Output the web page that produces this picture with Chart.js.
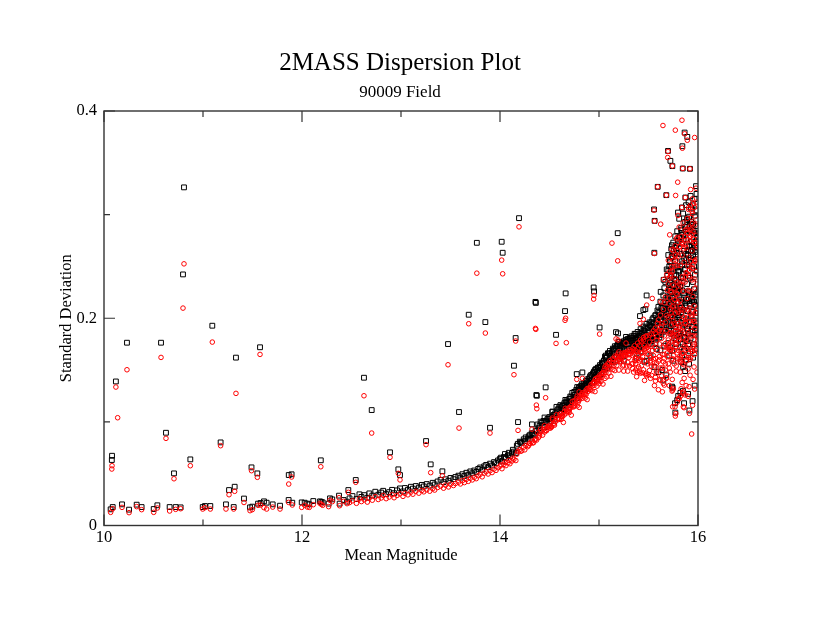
<!DOCTYPE html>
<html>
<head>
<meta charset="utf-8">
<script src="https://cdn.jsdelivr.net/npm/chart.js@4.4.1/dist/chart.umd.min.js"></script>
<style>
html,body{margin:0;padding:0;background:#fff;}
canvas{display:block;}
</style>
</head>
<body>
<canvas id="c" width="830" height="642"></canvas>
<script>
// ---- Tick values ----
const xLabelTicks = [10, 12, 14, 16];
const xMinorTicks = [11, 13, 15];
const yLabelTicks = [0, 0.2, 0.4];
const yMinorTicks = [0.1, 0.3];

// ---- Bright-end outliers (mean magnitude, black SD, red SD) ----
const magLeft = [10.808,10.798,11.094,10.232,10.576,11.576,11.333,10.120,10.138,10.626,
                 11.178,10.081,10.079,10.872,10.707,11.490,11.549,11.263,11.320,11.414,
                 11.866,11.895,12.190,12.626,12.704,12.543,12.889,12.973,12.990,12.468];
const blackLeft = [0.3263,0.2423,0.1928,0.1764,0.1764,0.1720,0.1620,0.1390,null,0.0895,
                   0.0802,0.0673,0.0632,0.0638,0.0503,0.0561,0.0503,0.0342,0.0374,0.0260,
                   0.0487,0.0494,0.0629,0.1426,0.1114,0.0439,0.0706,0.0542,0.0487,0.0342];
const redLeft = [0.2525,0.2098,0.1770,0.1503,0.1622,0.1651,0.1275,0.1336,0.1040,0.0841,
                 0.0770,0.0577,0.0545,0.0577,0.0451,0.0529,0.0465,0.0297,0.0330,0.0222,
                 0.0400,0.0468,0.0567,0.1252,0.0892,0.0417,0.0658,0.0503,0.0440,0.0320];

// ---- Bright-end floor (low dispersion) ----
const magFloor = [10.067,10.088,10.182,10.253,10.330,10.380,10.502,10.539,10.663,10.724,
                  10.774,10.997,11.020,11.074,11.232,11.310,11.475,11.498,11.556,11.582,
                  11.616,11.643,11.704,11.778,11.865,11.902,11.997,12.027,12.054,12.074,
                  12.114,12.182,12.195,12.209,12.269,12.283,12.306,12.374,12.380,12.421,
                  12.455];
const blackFloor = [0.0156,0.0178,0.0204,0.0153,0.0201,0.0178,0.0159,0.0195,0.0178,0.0178,
                    0.0175,0.0178,0.0188,0.0188,0.0204,0.0178,0.0175,0.0182,0.0211,0.0217,
                    0.0233,0.0220,0.0204,0.0191,0.0246,0.0220,0.0223,0.0220,0.0211,0.0204,
                    0.0236,0.0233,0.0227,0.0223,0.0211,0.0262,0.0252,0.0288,0.0211,0.0246,
                    0.0230];
const redFloor = [0.0127,0.0162,0.0175,0.0124,0.0182,0.0153,0.0127,0.0169,0.0140,0.0156,
                  0.0162,0.0159,0.0172,0.0159,0.0159,0.0159,0.0143,0.0153,0.0195,0.0198,
                  0.0172,0.0159,0.0178,0.0159,0.0223,0.0198,0.0175,0.0195,0.0178,0.0175,
                  0.0201,0.0214,0.0204,0.0195,0.0182,0.0243,0.0230,0.0268,0.0191,0.0233,
                  0.0211];

// ---- Main rising sequence ----
const magBand = [
 12.48,12.51,12.55,12.58,12.60,12.63,12.66,12.68,12.71,12.74,
 12.77,12.80,12.82,12.85,12.88,12.91,12.93,12.96,12.99,13.02,
 13.04,13.07,13.10,13.12,13.15,13.18,13.21,13.23,13.26,13.29,
 13.32,13.34,13.37,13.40,13.43,13.45,13.48,13.50,13.53,13.55,
 13.58,13.60,13.62,13.64,13.66,13.68,13.70,13.72,13.74,13.76,
 13.78,13.80,13.82,13.84,13.86,13.88,13.90,13.92,13.94,13.96,
 13.98,14.00,14.02,14.04,14.06,14.08,14.10,14.12,14.14,14.16,
 14.18,14.20,14.22,14.24,14.26,14.28,14.30,14.32,14.34,14.36,
 14.38,14.40,14.42,14.44,14.46,14.48,14.50,14.52,14.54,14.56,
 14.58,14.60,14.61,14.63,14.65,14.67,14.68,14.70,14.72,14.74,
 14.75,14.77,14.79,14.80,14.82,14.84,14.85,14.87,14.89,14.90,
 14.92,14.93,14.95,14.96,14.98,14.99,15.01,15.02,15.04,15.05,
 15.07,15.08,15.10,15.11,15.13,15.14,15.16,15.17,15.19,15.20,
 15.22,15.23,15.25,15.26,15.28,15.29,15.31,15.32,15.34,15.35,
 14.41,14.45,14.49,14.53,14.57,14.62,14.66,14.69,14.73,14.76,
 14.78,14.81,14.83,14.86,14.88,14.91,14.94,14.97,15.00,15.03,
 15.06,15.09,15.12,15.15,15.18,15.21,15.24,15.27,15.30,15.33,
 14.01,14.05,14.09,14.13,14.17,14.21,14.25,14.29,14.33,14.37,
 14.39,14.43,14.47,14.51,14.55,14.59,14.63,14.67,14.71,14.75,
 14.79,14.83,14.87,14.91,14.95,14.99,15.03,15.07,15.11,15.15,
 15.19,15.23,15.27,15.31,15.35,15.21,15.25,15.29,15.33,15.37,
 14.64,14.72,14.80,14.88,14.96,15.04,15.12,15.20,15.28,15.34,
 14.30,14.35,14.40,14.45,14.50,14.55,14.60,14.65,14.70,14.75,
 14.80,14.85,14.90,14.95,15.00,15.05,15.10,15.15,15.20,15.25,
 14.52,14.62,14.70,14.78,14.86,14.93,15.00,15.08,15.16,15.24,
 14.98,15.02,15.06,15.10,15.14,15.18,15.22,15.26,15.30,15.34];
const blackBand = [
 0.0262,0.0284,0.0255,0.0301,0.0276,0.0293,0.0268,0.0310,0.0289,0.0326,
 0.0297,0.0318,0.0335,0.0303,0.0322,0.0344,0.0312,0.0339,0.0358,0.0329,
 0.0362,0.0345,0.0374,0.0356,0.0381,0.0366,0.0392,0.0377,0.0400,0.0385,
 0.0412,0.0396,0.0425,0.0441,0.0418,0.0446,0.0432,0.0459,0.0447,0.0468,
 0.0481,0.0462,0.0495,0.0478,0.0509,0.0490,0.0522,0.0504,0.0531,0.0517,
 0.0546,0.0560,0.0538,0.0571,0.0585,0.0562,0.0597,0.0579,0.0612,0.0601,
 0.0628,0.0644,0.0619,0.0661,0.0652,0.0679,0.0668,0.0696,0.0713,0.0700,
 0.0788,0.0809,0.0798,0.0832,0.0850,0.0838,0.0872,0.0891,0.0879,0.0912,
 0.0975,0.0963,0.0991,0.1009,0.0997,0.1029,0.1047,0.1035,0.1066,0.1084,
 0.1113,0.1146,0.1162,0.1150,0.1181,0.1199,0.1188,0.1222,0.1240,0.1227,
 0.1289,0.1308,0.1296,0.1330,0.1351,0.1338,0.1372,0.1395,0.1383,0.1419,
 0.1452,0.1440,0.1478,0.1501,0.1489,0.1525,0.1548,0.1536,0.1571,0.1592,
 0.1640,0.1625,0.1662,0.1685,0.1671,0.1707,0.1730,0.1716,0.1750,0.1771,
 0.1732,0.1718,0.1751,0.1767,0.1754,0.1782,0.1795,0.1778,0.1808,0.1792,
 0.1002,0.1042,0.1028,0.1100,0.1145,0.1131,0.1212,0.1183,0.1280,0.1258,
 0.1336,0.1318,0.1370,0.1355,0.1410,0.1396,0.1468,0.1512,0.1494,0.1560,
 0.1630,0.1662,0.1638,0.1701,0.1732,0.1699,0.1765,0.1772,0.1750,0.1785,
 0.0655,0.0690,0.0702,0.0731,0.0770,0.0801,0.0815,0.0860,0.0885,0.0918,
 0.0940,0.0968,0.1012,0.1035,0.1070,0.1128,0.1155,0.1190,0.1245,0.1262,
 0.1310,0.1348,0.1392,0.1440,0.1485,0.1520,0.1572,0.1618,0.1652,0.1690,
 0.1735,0.1762,0.1790,0.1812,0.1830,0.1745,0.1778,0.1801,0.1826,0.1848,
 0.1120,0.1195,0.1272,0.1350,0.1432,0.1505,0.1580,0.1640,0.1690,0.1720,
 0.0835,0.0872,0.0915,0.0950,0.0992,0.1030,0.1078,0.1120,0.1168,0.1215,
 0.1262,0.1320,0.1372,0.1425,0.1478,0.1530,0.1582,0.1625,0.1665,0.1700,
 0.1010,0.1090,0.1160,0.1230,0.1305,0.1380,0.1450,0.1520,0.1580,0.1630,
 0.1410,0.1460,0.1505,0.1550,0.1590,0.1630,0.1665,0.1690,0.1710,0.1730];
const redBand = [
 0.0221,0.0238,0.0214,0.0257,0.0231,0.0248,0.0226,0.0265,0.0244,0.0278,
 0.0251,0.0266,0.0290,0.0259,0.0275,0.0296,0.0268,0.0290,0.0305,0.0281,
 0.0310,0.0296,0.0322,0.0302,0.0330,0.0312,0.0338,0.0325,0.0344,0.0331,
 0.0355,0.0342,0.0367,0.0380,0.0360,0.0389,0.0372,0.0398,0.0386,0.0405,
 0.0418,0.0401,0.0432,0.0414,0.0445,0.0426,0.0456,0.0440,0.0465,0.0452,
 0.0480,0.0494,0.0470,0.0505,0.0518,0.0497,0.0529,0.0511,0.0545,0.0532,
 0.0557,0.0572,0.0548,0.0590,0.0578,0.0605,0.0596,0.0622,0.0638,0.0627,
 0.0714,0.0733,0.0722,0.0756,0.0774,0.0761,0.0794,0.0813,0.0800,0.0835,
 0.0896,0.0884,0.0912,0.0929,0.0918,0.0950,0.0967,0.0955,0.0986,0.1004,
 0.1031,0.1063,0.1078,0.1067,0.1098,0.1115,0.1104,0.1138,0.1155,0.1144,
 0.1203,0.1222,0.1210,0.1243,0.1263,0.1250,0.1284,0.1306,0.1294,0.1329,
 0.1360,0.1348,0.1386,0.1408,0.1396,0.1431,0.1454,0.1441,0.1476,0.1497,
 0.1544,0.1529,0.1566,0.1589,0.1575,0.1611,0.1634,0.1620,0.1654,0.1675,
 0.1635,0.1621,0.1653,0.1668,0.1656,0.1683,0.1695,0.1679,0.1707,0.1692,
 0.0931,0.0964,0.0952,0.1021,0.1069,0.1050,0.1131,0.1104,0.1198,0.1177,
 0.1248,0.1232,0.1280,0.1267,0.1321,0.1308,0.1376,0.1419,0.1402,0.1468,
 0.1530,0.1561,0.1540,0.1600,0.1631,0.1602,0.1663,0.1670,0.1648,0.1680,
 0.0585,0.0610,0.0628,0.0650,0.0688,0.0716,0.0730,0.0772,0.0796,0.0825,
 0.0850,0.0872,0.0915,0.0940,0.0968,0.1022,0.1050,0.1085,0.1132,0.1150,
 0.1190,0.1228,0.1265,0.1310,0.1352,0.1388,0.1431,0.1475,0.1512,0.1545,
 0.1590,0.1610,0.1638,0.1650,0.1672,0.1580,0.1548,0.1575,0.1560,0.1590,
 0.0995,0.1065,0.1140,0.1215,0.1292,0.1365,0.1440,0.1500,0.1540,0.1560,
 0.0790,0.0825,0.0866,0.0902,0.0941,0.0980,0.1026,0.1068,0.1115,0.1160,
 0.1210,0.1265,0.1318,0.1370,0.1422,0.1472,0.1522,0.1568,0.1605,0.1640,
 0.0950,0.1025,0.1090,0.1155,0.1230,0.1300,0.1368,0.1435,0.1495,0.1540,
 0.1345,0.1390,0.1420,0.1470,0.1505,0.1545,0.1580,0.1600,0.1620,0.1640];

// ---- Scattered variables above the sequence ----
const magSpread = [13.586,13.899,14.182,13.253,13.300,13.418,14.192,13.766,14.017,14.027,
                   15.131,15.189,14.946,14.950,14.663,14.657,14.358,14.362,13.684,13.852,
                   13.475,14.158,14.566,14.670,15.006,14.141,14.461,14.367,14.372,14.529,
                   14.775,14.832,14.800,14.323,15.192,15.172,15.290,15.273,15.414,15.448];
const blackSpread = [0.1095,0.0943,0.0998,0.0815,0.0590,0.0523,0.2966,0.2728,0.2738,0.2632,
                     null,0.2821,0.2297,0.2259,0.2240,0.2069,0.2158,0.2148,0.2034,0.1963,
                     0.1751,0.1809,0.1840,null,0.1911,0.1542,0.1333,0.1259,0.1252,0.1095,
                     0.1461,0.1477,0.1333,0.0976,0.1854,0.1866,null,0.1820,0.2021,0.2079];
const redSpread = [0.0940,0.0892,0.0918,0.0780,0.0510,0.0480,0.2882,0.2435,0.2561,0.2429,
                   0.2725,0.2554,0.2185,0.2220,0.2000,0.1980,0.1902,0.1893,0.1947,0.1857,
                   0.1551,0.1780,0.1757,0.1764,0.1847,0.1455,0.1233,0.1162,0.1127,0.1037,
                   0.1410,0.1420,0.1290,0.0930,0.1790,0.1800,0.1490,0.1760,0.1950,0.1990];

// ---- Faint-end high outliers ----
const magHigh = [15.838,15.646,15.771,15.865,15.892,15.966,15.842,15.697,15.694,
                 15.721,15.741,15.846,15.919,15.795,15.980,15.926,15.593,15.680,
                 15.774,15.872,15.943,15.838,15.879,15.906,15.956,15.940,15.556,
                 15.798,15.562,15.623,15.892,15.943,15.714,15.781,15.737,15.559,
                 15.684,15.727,15.653,15.623,15.481,15.538,15.626,15.482,15.468];
const blackHigh = [null,null,null,0.3792,0.3750,null,0.3660,0.3615,null,
                   0.3519,0.3468,0.3445,0.3442,null,0.3275,null,0.3268,0.3188,
                   null,0.3165,null,0.3069,0.3091,null,null,null,0.3050,
                   0.3020,0.2940,null,0.2963,null,null,null,0.2705,0.2632,
                   0.2471,0.2471,0.2371,0.2255,0.2220,null,null,null,0.2088];
const redHigh = [0.3911,0.3860,0.3815,0.3780,0.3718,0.3744,0.3641,0.3610,0.3551,
                 null,0.3470,0.3445,0.3442,0.3313,0.3255,0.3242,0.3268,0.3188,
                 0.3185,0.3165,0.3152,0.3069,null,0.3069,0.3108,0.3030,0.3043,
                 0.2992,0.2937,0.2908,0.2963,0.2915,0.2805,0.2766,0.2664,0.2625,
                 0.2423,0.2420,0.2375,null,null,0.2191,0.2159,0.2127,null];

// ---- Faint-end cloud ----
const magCloud = [
 15.36,15.37,15.37,15.38,15.39,15.39,15.40,15.41,15.41,15.42,
 15.43,15.43,15.44,15.45,15.45,15.46,15.47,15.47,15.48,15.49,
 15.49,15.50,15.51,15.51,15.52,15.53,15.53,15.54,15.55,15.55,
 15.36,15.40,15.44,15.48,15.52,15.38,15.42,15.46,15.50,15.54,
 15.36,15.37,15.39,15.40,15.42,15.43,15.45,15.46,15.48,15.49,
 15.51,15.52,15.54,15.55,15.57,15.58,15.60,15.61,15.63,15.64,
 15.31,15.34,15.37,15.41,15.44,15.47,15.50,15.53,15.57,15.61,
 15.56,15.56,15.57,15.57,15.58,15.58,15.59,15.59,15.60,15.60,
 15.61,15.61,15.62,15.62,15.63,15.63,15.64,15.64,15.65,15.65,
 15.66,15.66,15.66,15.67,15.67,15.67,15.68,15.68,15.68,15.69,
 15.57,15.59,15.61,15.63,15.65,15.67,15.69,15.58,15.62,15.66,
 15.70,15.70,15.70,15.71,15.71,15.71,15.72,15.72,15.72,15.73,
 15.73,15.73,15.74,15.74,15.74,15.75,15.75,15.75,15.76,15.76,
 15.76,15.77,15.77,15.77,15.78,15.78,15.78,15.79,15.79,15.79,
 15.80,15.80,15.80,15.70,15.72,15.74,15.76,15.78,15.71,15.75,
 15.73,15.77,15.79,15.74,15.78,15.72,15.76,15.80,15.71,15.79,
 15.70,15.73,15.75,15.77,15.79,15.71,15.74,15.76,15.78,15.80,
 15.66,15.68,15.70,15.72,15.74,15.76,15.78,15.80,15.82,15.84,
 15.86,15.88,15.90,15.92,15.94,15.96,15.98,15.67,15.69,15.71,
 15.73,15.75,15.77,15.79,15.81,15.83,15.85,15.87,15.89,15.91,
 15.93,15.95,15.97,15.99,15.815,15.835,15.855,15.875,15.895,15.915,
 15.935,15.955,15.975,15.995,15.705,15.725,15.745,15.765,15.785,15.805,
 15.825,15.845,15.865,15.885,15.905,15.925,15.945,15.965,15.985,15.995,
 15.715,15.735,15.755,15.775,15.795,15.815,15.835,15.855,15.875,15.895,
 15.915,15.935,15.955,15.975,15.995,15.905,15.925,15.945,15.965,15.985,
 15.81,15.81,15.81,15.82,15.82,15.82,15.83,15.83,15.83,15.84,
 15.84,15.84,15.85,15.85,15.85,15.86,15.86,15.86,15.87,15.87,
 15.87,15.88,15.88,15.88,15.89,15.89,15.89,15.90,15.90,15.90,
 15.91,15.91,15.91,15.92,15.92,15.92,15.93,15.93,15.93,15.94,
 15.94,15.94,15.95,15.95,15.95,15.96,15.96,15.96,15.97,15.97,
 15.97,15.98,15.98,15.98,15.99,15.99,15.99,15.82,15.86,15.90,
 15.84,15.88,15.92,15.96,15.83,15.87,15.91,15.95,15.99,15.85,
 15.81,15.85,15.89,15.93,15.97,15.83,15.87,15.91,15.95,15.99,
 15.82,15.84,15.86,15.88,15.90,15.92,15.94,15.96,15.98,15.80,
 15.83,15.85,15.87,15.89,15.91,15.93,15.95,15.97,15.81,15.99,
 15.38,15.48,15.25,15.42,15.52,15.35,15.46,15.56,15.60,15.64,
 15.744,15.771,15.775,15.859,15.913,15.936,15.848,15.810,15.822,15.900,
 15.966,15.738,15.650,15.680,15.768,15.852,15.744,15.800,15.790,15.945];
const blackCloud = [
 0.1762,0.1705,0.1790,0.1741,0.1812,0.1688,0.1775,0.1830,0.1720,0.1795,
 0.1748,0.1860,0.1802,0.1735,0.1885,0.1770,0.1825,0.1910,0.1760,0.1842,
 0.1790,0.1870,0.1935,0.1752,0.1815,0.1962,0.1780,0.1890,0.1840,0.2005,
 0.1720,0.1746,0.1778,0.1802,0.1826,0.1798,0.1815,0.1852,0.1795,0.1920,
 0.1850,0.1812,0.1868,0.1835,0.1895,0.1862,0.1920,0.1880,0.1945,0.1905,
 0.1960,0.1925,0.1990,0.1950,0.2025,0.1980,0.2060,0.2010,0.2100,0.2050,
 0.1690,0.1705,0.1720,0.1735,0.1750,0.1770,0.1785,0.1800,0.1820,0.1840,
 0.1905,0.1840,0.2030,0.1875,0.1960,0.1795,0.2075,0.1910,0.1850,0.2110,
 0.1925,0.2050,0.1880,0.2160,0.1990,0.1842,0.2095,0.1935,0.2220,0.1870,
 0.2015,0.2290,0.1950,0.2120,0.1885,0.2350,0.2060,0.1930,0.2195,0.2410,
 0.1760,0.1990,0.1815,0.2040,0.2150,0.2005,0.2090,0.1705,0.1690,0.1735,
 0.2180,0.1960,0.2460,0.2070,0.2320,0.1880,0.2250,0.2010,0.2540,0.2130,
 0.2400,0.1850,0.2260,0.2030,0.2590,0.2140,0.1940,0.2480,0.2310,0.2060,
 0.2620,0.2200,0.1990,0.2550,0.2370,0.2110,0.2680,0.2250,0.1960,0.2490,
 0.2160,0.2720,0.2030,0.1760,0.1720,0.1690,0.1810,0.1750,0.1640,0.1590,
 0.1880,0.1920,0.1830,0.1940,0.1790,0.2340,0.2410,0.2290,0.2500,0.2630,
 0.2610,0.2670,0.2730,0.2790,0.2840,0.2280,0.2200,0.2120,0.2050,0.1870,
 0.2080,0.2150,0.2210,0.2280,0.2320,0.2380,0.2420,0.2460,0.2500,0.2550,
 0.2580,0.2620,0.2650,0.2690,0.2700,0.2720,0.2740,0.1980,0.2020,0.2100,
 0.2150,0.2200,0.2260,0.2300,0.2350,0.2390,0.2430,0.2470,0.2510,0.2540,
 0.2580,0.2610,0.2640,0.2660,0.2100,0.2150,0.2080,0.2120,0.2180,0.2140,
 0.2200,0.2160,0.2220,0.2250,0.1900,0.1950,0.2000,0.2050,0.2010,0.2080,
 0.1800,0.1750,0.1820,0.1780,0.1850,0.1810,0.1870,0.1840,0.1900,0.1960,
 0.2550,0.2600,0.2650,0.2700,0.2750,0.2780,0.2820,0.2760,0.2800,0.2850,
 0.2880,0.2900,0.2850,0.2820,0.2790,0.3120,0.3180,0.3090,0.3150,0.3200,
 0.2450,0.2010,0.2780,0.2310,0.1860,0.2620,0.2180,0.2850,0.1950,0.2520,
 0.2100,0.2720,0.2390,0.1930,0.2810,0.2240,0.2650,0.1810,0.2470,0.2880,
 0.2150,0.2560,0.1990,0.2760,0.2330,0.2900,0.2070,0.2610,0.2410,0.1880,
 0.2700,0.2250,0.2520,0.2840,0.2120,0.2390,0.2660,0.1960,0.2930,0.2480,
 0.2190,0.2740,0.2600,0.2060,0.2350,0.2820,0.2280,0.2500,0.2680,0.2130,
 0.2420,0.2890,0.2230,0.2570,0.2460,0.2780,0.2050,0.1720,0.1690,0.1750,
 0.1640,0.1600,0.1680,0.1750,0.1580,0.1490,0.1560,0.1620,0.1700,0.1530,
 0.2960,0.3010,0.2950,0.3060,0.2990,0.2870,0.2930,0.2980,0.2910,0.3040,
 0.2300,0.2270,0.2200,0.2180,0.2260,0.2230,0.2170,0.2160,0.2120,0.2240,
 0.2060,0.2000,0.1940,0.1900,0.1970,0.2020,0.1920,0.1880,0.1850,0.1950,
 0.1620,0.1590,0.1590,0.1680,0.1640,0.1690,0.1580,0.1530,0.1480,0.1500,
 null,0.1090,null,0.1180,0.1110,null,0.1300,null,0.1280,0.1270,
 0.1350,0.1340,0.1400,0.1450,0.1180,null,0.1330,0.1250,0.1210,0.1200];
const redCloud = [
 0.1650,0.1562,0.1688,0.1520,0.1705,0.1480,0.1612,0.1740,0.1590,0.1668,
 0.1545,0.1772,0.1630,0.1502,0.1790,0.1585,0.1710,0.1825,0.1468,0.1655,
 0.1560,0.1702,0.1838,0.1495,0.1620,0.1850,0.1538,0.1745,0.1605,0.1880,
 0.1592,0.1530,0.1668,0.1712,0.1570,0.1680,0.1605,0.1735,0.1652,0.1690,
 0.1735,0.1610,0.1760,0.1640,0.1790,0.1665,0.1815,0.1700,0.1830,0.1720,
 0.1770,0.1590,0.1810,0.1640,0.1860,0.1560,0.1880,0.1600,0.1920,0.1520,
 0.1540,0.1515,0.1500,0.1482,0.1475,0.1460,0.1455,0.1448,0.1430,0.1410,
 0.1720,0.1540,0.1905,0.1612,0.1788,0.1470,0.1950,0.1690,0.1585,0.1985,
 0.1752,0.1880,0.1520,0.2030,0.1805,0.1445,0.1948,0.1652,0.2085,0.1580,
 0.1830,0.2150,0.1610,0.1960,0.1500,0.2205,0.1880,0.1425,0.2025,0.2270,
 0.1395,0.1825,0.1630,0.1875,0.1720,0.1755,0.1665,0.1490,0.1402,0.1355,
 0.2010,0.1740,0.2330,0.1850,0.2195,0.1520,0.2090,0.1690,0.2405,0.1935,
 0.2250,0.1600,0.2110,0.1780,0.2450,0.1975,0.1640,0.2320,0.2180,0.1830,
 0.2500,0.2050,0.1720,0.2380,0.2240,0.1880,0.2560,0.2080,0.1665,0.2350,
 0.1950,0.2600,0.1780,0.1560,0.1480,0.1410,0.1560,0.1490,0.1350,0.1320,
 0.1700,0.1760,0.1610,0.1850,0.1540,0.2260,0.2290,0.2150,0.2380,0.2510,
 0.2560,0.2590,0.2650,0.2700,0.2780,0.2140,0.2020,0.1950,0.1910,0.1690,
 0.1650,0.1720,0.1790,0.1860,0.1610,0.1690,0.1750,0.1820,0.1580,0.1660,
 0.1730,0.1790,0.1860,0.1600,0.1680,0.1750,0.1830,0.1560,0.1630,0.1700,
 0.2050,0.2120,0.2180,0.2230,0.2270,0.2320,0.2360,0.2400,0.2430,0.2460,
 0.2490,0.2520,0.2550,0.2570,0.1930,0.1980,0.1910,0.1950,0.2010,0.1970,
 0.2030,0.1990,0.2060,0.2090,0.1720,0.1770,0.1830,0.1870,0.1840,0.1910,
 0.1600,0.1560,0.1630,0.1590,0.1660,0.1620,0.1680,0.1650,0.1710,0.1780,
 0.2450,0.2500,0.2560,0.2610,0.2650,0.2690,0.2730,0.2670,0.2710,0.2760,
 0.2790,0.2810,0.2760,0.2730,0.2700,0.3050,0.3090,0.3010,0.3070,0.3120,
 0.2330,0.1790,0.2690,0.2170,0.1640,0.2510,0.2040,0.2750,0.1700,0.2400,
 0.1880,0.2610,0.2260,0.1660,0.2720,0.2080,0.2540,0.1550,0.2350,0.2790,
 0.1960,0.2440,0.1720,0.2680,0.2190,0.2820,0.1840,0.2500,0.2270,0.1620,
 0.2590,0.2100,0.2410,0.2750,0.1910,0.2260,0.2550,0.1700,0.2860,0.2370,
 0.2010,0.2650,0.2480,0.1830,0.2210,0.2730,0.2120,0.2380,0.2560,0.1900,
 0.2290,0.2800,0.2050,0.2450,0.2330,0.2690,0.1820,0.1480,0.1420,0.1510,
 0.1380,0.1350,0.1450,0.1530,0.1320,0.1260,0.1340,0.1410,0.1480,0.1290,
 0.2880,0.2920,0.2860,0.2970,0.2900,0.2790,0.2850,0.2880,0.2840,0.2950,
 0.2120,0.2090,0.2010,0.1990,0.2080,0.2050,0.1980,0.1970,0.1930,0.2060,
 0.1860,0.1810,0.1760,0.1700,0.1780,0.1830,0.1730,0.1690,0.1610,0.1760,
 0.1436,0.1445,0.1490,0.1470,0.1420,0.1480,0.1400,0.1350,0.1310,0.1290,
 0.1146,0.1056,0.1080,0.1137,0.1082,0.0883,0.1275,0.1223,0.1247,0.1247,
 0.1317,0.1297,0.1371,0.1420,0.1146,0.1146,0.1307,0.1223,0.1190,0.1160];

function toPoints(mags, sds) {
  const out = [];
  mags.forEach((m, i) => { if (sds[i] !== null && sds[i] !== undefined) out.push({x: m, y: sds[i]}); });
  return out;
}
const blackPoints = [].concat(
  toPoints(magLeft, blackLeft), toPoints(magFloor, blackFloor), toPoints(magBand, blackBand),
  toPoints(magSpread, blackSpread), toPoints(magHigh, blackHigh), toPoints(magCloud, blackCloud));
const redPoints = [].concat(
  toPoints(magLeft, redLeft), toPoints(magFloor, redFloor), toPoints(magBand, redBand),
  toPoints(magSpread, redSpread), toPoints(magHigh, redHigh), toPoints(magCloud, redCloud));

const SERIF = "'Liberation Serif', 'Times New Roman', serif";

const frameTicks = {
  id: 'frameTicks',
  afterDatasetsDraw(chart) {
    const {ctx, chartArea: a, scales: {x, y}} = chart;
    ctx.save();
    ctx.strokeStyle = '#333';
    ctx.lineWidth = 1.4;
    ctx.strokeRect(a.left, a.top, a.right - a.left, a.bottom - a.top);
    ctx.lineWidth = 1.2;
    ctx.beginPath();
    const xt = (vals, len) => vals.forEach(v => {
      const p = x.getPixelForValue(v);
      ctx.moveTo(p, a.bottom); ctx.lineTo(p, a.bottom - len);
      ctx.moveTo(p, a.top); ctx.lineTo(p, a.top + len);
    });
    const yt = (vals, len) => vals.forEach(v => {
      const p = y.getPixelForValue(v);
      ctx.moveTo(a.left, p); ctx.lineTo(a.left + len, p);
      ctx.moveTo(a.right, p); ctx.lineTo(a.right - len, p);
    });
    xt(xLabelTicks, 11); xt(xMinorTicks, 6);
    yt(yLabelTicks, 11); yt(yMinorTicks, 6);
    ctx.stroke();
    ctx.restore();
  }
};

new Chart(document.getElementById('c'), {
  type: 'scatter',
  data: {
    datasets: [
      { label: 'red', data: redPoints, pointStyle: 'circle', pointRadius: 2.3,
        borderColor: 'rgb(255,0,0)', backgroundColor: 'rgba(0,0,0,0)', borderWidth: 1 },
      { label: 'black', data: blackPoints, pointStyle: 'rect', pointRadius: 3.4,
        borderColor: '#000', backgroundColor: 'rgba(0,0,0,0)', borderWidth: 1 }
    ]
  },
  options: {
    responsive: false,
    animation: false,
    events: [],
    layout: { padding: { left: 20, right: 50, top: 40, bottom: 76 } },
    plugins: {
      legend: { display: false },
      tooltip: { enabled: false },
      title: { display: true, text: '2MASS Dispersion Plot', color: '#000',
        font: { family: SERIF, size: 25, weight: 'normal' }, padding: { top: 8, bottom: 0 } },
      subtitle: { display: true, text: '90009 Field', color: '#000',
        font: { family: SERIF, size: 17, weight: 'normal' }, padding: { top: 4.8, bottom: 7.8 } }
    },
    scales: {
      x: {
        type: 'linear', min: 10, max: 16,
        afterFit(s) { s.height = 40.5; },
        grid: { display: false, drawTicks: false }, border: { display: false },
        ticks: { stepSize: 2, color: '#000', padding: 2, maxRotation: 0,
          font: { family: SERIF, size: 16.5 } },
        title: { display: true, text: 'Mean Magnitude', color: '#000',
          font: { family: SERIF, size: 16.5 }, padding: { top: 0, bottom: 0.1 } }
      },
      y: {
        type: 'linear', min: 0, max: 0.4,
        afterFit(s) { s.width = 84; },
        grid: { display: false, drawTicks: false }, border: { display: false },
        ticks: { stepSize: 0.2, color: '#000', padding: 7,
          font: { family: SERIF, size: 16.5 } },
        title: { display: true, text: 'Standard Deviation', color: '#000',
          font: { family: SERIF, size: 16.5 }, padding: { top: 37.1, bottom: 0 } }
      },
      yRight: {
        type: 'linear', position: 'right', min: 0, max: 0.4,
        afterFit(s) { s.width = 82; },
        grid: { display: false, drawTicks: false }, border: { display: false },
        ticks: { display: false }
      }
    }
  },
  plugins: [frameTicks]
});
</script>
</body>
</html>
